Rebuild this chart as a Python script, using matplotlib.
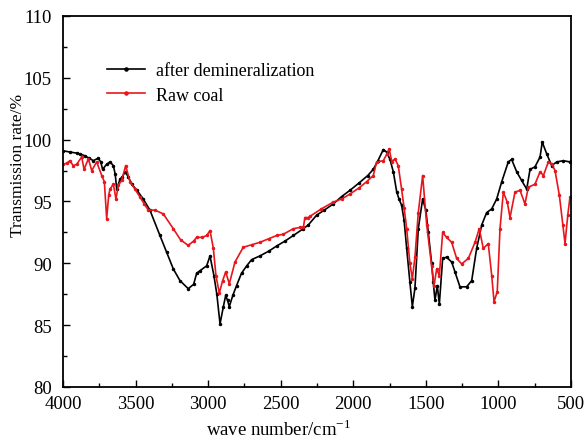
import matplotlib
matplotlib.use("Agg")
import matplotlib.pyplot as plt
from matplotlib.ticker import MultipleLocator

plt.rcParams["font.family"] = ["Liberation Serif", "DejaVu Serif"]
plt.rcParams["mathtext.fontset"] = "custom"
plt.rcParams["mathtext.rm"] = "Liberation Serif"

# FTIR spectra (wave number in cm^-1, transmission in %)
wn_demin = [4000, 3952, 3900, 3883, 3850, 3820, 3791, 3757, 3740, 3727, 3700, 3676,
            3653, 3640, 3630, 3607, 3590, 3573, 3550, 3527, 3490, 3447, 3401, 3332,
            3286, 3240, 3194, 3137, 3100, 3079, 3056, 3010, 2987, 2960, 2940, 2918,
            2895, 2879, 2866, 2854, 2830, 2804, 2770, 2734, 2700, 2643, 2580, 2528,
            2470, 2413, 2344, 2310, 2252, 2200, 2138, 2080, 2023, 1960, 1900, 1862,
            1830, 1793, 1770, 1747, 1724, 1701, 1685, 1667, 1650, 1632, 1610, 1593,
            1575, 1552, 1522, 1500, 1483, 1460, 1449, 1437, 1421, 1407, 1384, 1357,
            1322, 1299, 1265, 1219, 1184, 1150, 1115, 1081, 1046, 1012, 977, 932,
            909, 874, 840, 805, 782, 748, 713, 698, 667, 633, 598, 553, 507, 500]
tr_demin = [99.1, 99.0, 98.9, 98.85, 98.7, 98.5, 98.3, 98.5, 98.2, 97.6, 98.0, 98.2,
            97.9, 97.2, 96.0, 96.8, 97.0, 97.4, 97.0, 96.4, 95.9, 95.2, 94.3, 92.25,
            90.9, 89.55, 88.6, 87.95, 88.3, 89.2, 89.4, 89.8, 90.6, 89.0, 87.5, 85.1,
            86.5, 87.4, 87.0, 86.5, 87.4, 88.2, 89.2, 89.8, 90.3, 90.6, 91.0, 91.4,
            91.8, 92.25, 92.8, 93.1, 93.9, 94.3, 94.8, 95.4, 95.9, 96.5, 97.1, 97.6,
            98.3, 99.2, 99.0, 98.4, 97.4, 95.8, 95.2, 94.7, 93.5, 91.2, 88.5, 86.5,
            88.0, 92.8, 95.2, 94.3, 92.5, 90.0, 88.5, 87.0, 88.2, 86.7, 90.4, 90.5,
            90.1, 89.3, 88.1, 88.1, 88.6, 91.2, 93.1, 94.1, 94.4, 95.2, 96.6, 98.2,
            98.4, 97.4, 96.7, 96.0, 97.6, 97.8, 98.6, 99.8, 98.85, 97.9, 98.2, 98.3, 98.2, 98.3]

wn_raw = [4000, 3975, 3952, 3930, 3906, 3871, 3855, 3825, 3802, 3768, 3733, 3715,
          3699, 3685, 3676, 3653, 3635, 3619, 3596, 3568, 3538, 3504, 3469, 3440,
          3412, 3366, 3309, 3240, 3190, 3137, 3100, 3079, 3040, 3010, 2987, 2964,
          2946, 2923, 2900, 2879, 2854, 2815, 2758, 2700, 2643, 2580, 2528, 2482,
          2413, 2367, 2344, 2333, 2310, 2298, 2220, 2138, 2080, 2023, 1960, 1908,
          1862, 1839, 1793, 1770, 1752, 1735, 1713, 1690, 1667, 1650, 1632, 1610,
          1593, 1575, 1552, 1522, 1494, 1460, 1444, 1425, 1407, 1384, 1357, 1322,
          1288, 1253, 1207, 1161, 1132, 1104, 1070, 1046, 1030, 1008, 989, 966,
          939, 920, 886, 851, 817, 794, 748, 713, 690, 656, 633, 610, 580, 556,
          541, 522, 507]
tr_raw = [98.0, 98.1, 98.3, 97.9, 98.0, 98.6, 97.6, 98.45, 97.5, 98.2, 97.1, 96.6,
          93.6, 95.5, 96.0, 96.4, 95.2, 96.3, 96.7, 97.9, 96.6, 96.0, 95.35, 94.8,
          94.3, 94.3, 94.0, 92.8, 91.9, 91.45, 91.8, 92.1, 92.1, 92.25, 92.65, 91.2,
          89.0, 87.6, 88.6, 89.3, 88.35, 90.1, 91.3, 91.5, 91.7, 92.0, 92.25, 92.35,
          92.8, 92.9, 92.9, 93.7, 93.7, 93.8, 94.4, 94.95, 95.2, 95.6, 96.1, 96.6,
          97.1, 98.2, 98.3, 98.8, 99.25, 98.2, 98.45, 97.9, 96.0, 94.5, 92.8, 90.0,
          88.75, 90.5, 94.1, 97.1, 93.1, 89.8, 88.2, 89.55, 89.0, 92.5, 92.1, 91.7,
          90.4, 89.95, 90.4, 91.7, 92.8, 91.2, 91.6, 89.0, 86.9, 87.7, 92.8, 95.75,
          94.95, 93.7, 95.75, 95.9, 94.8, 96.15, 96.4, 97.4, 97.1, 98.2, 98.05, 97.5, 95.5, 93.1,
          91.6, 93.9, 95.35]

fig = plt.figure(figsize=(5.87, 4.39), dpi=100)
ax = fig.add_axes([0.1073, 0.1162, 0.8654, 0.8451])

ax.plot(wn_demin, tr_demin, color="black", lw=1.2, marker="o", ms=1.5,
        label="after demineralization")
ax.plot(wn_raw, tr_raw, color="#e8161c", lw=1.2, marker="o", ms=1.5,
        label="Raw coal")

ax.set_xlim(4000, 500)
ax.set_ylim(80, 110)
ax.xaxis.set_major_locator(MultipleLocator(500))
ax.xaxis.set_minor_locator(MultipleLocator(250))
ax.yaxis.set_major_locator(MultipleLocator(5))
ax.yaxis.set_minor_locator(MultipleLocator(2.5))
ax.tick_params(which="both", direction="in", top=False, right=False, labelsize=13.5)
ax.tick_params(which="major", length=5, width=1)
ax.tick_params(which="minor", length=3, width=1)
ax.tick_params(axis="y", pad=8)
ax.tick_params(axis="x", pad=5.5)
for s in ax.spines.values():
    s.set_linewidth(1.3)

ax.set_xlabel("wave number/cm$^{-1}$", fontsize=13.5)
ax.xaxis.set_label_coords(0.425, -0.084)
ax.set_ylabel("Transmission rate/%", fontsize=12.5)
ax.yaxis.set_label_coords(-0.072, 0.6)

ax.legend(loc="upper left", bbox_to_anchor=(0.087, 0.875), frameon=False,
          fontsize=13, borderpad=0, borderaxespad=0, handlelength=2.1,
          handletextpad=0.6, labelspacing=0.4, numpoints=1, markerscale=1.5)

fig.savefig("out.png", dpi=100)
